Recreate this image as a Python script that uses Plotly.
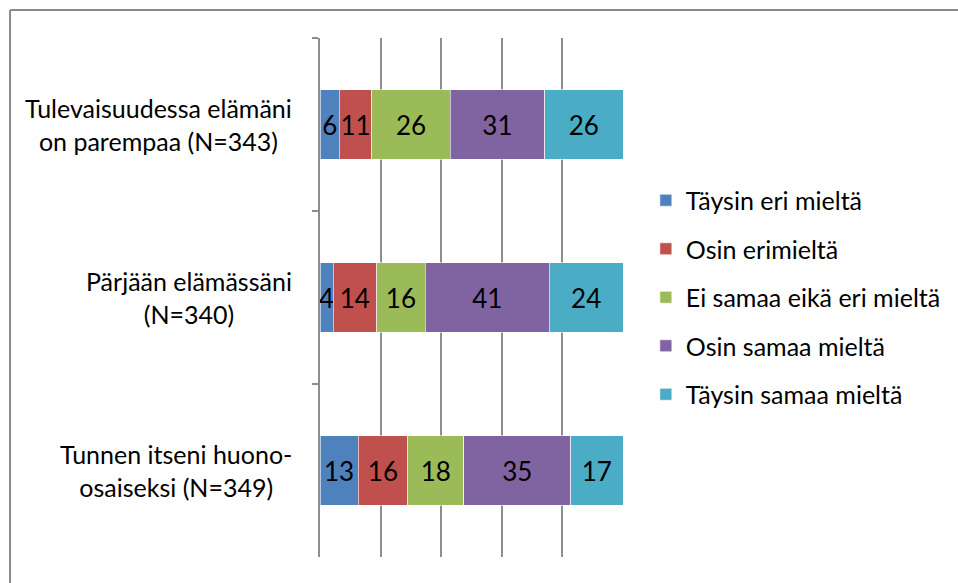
import plotly.graph_objects as go

categories = ["Tulevaisuudessa elämäni<br>on parempaa (N=343)",
              "Pärjään elämässäni<br>(N=340)",
              "Tunnen itseni huono-<br>osaiseksi (N=349)"]
series_names = ["Täysin eri mieltä", "Osin erimieltä", "Ei samaa eikä eri mieltä",
                "Osin samaa mieltä", "Täysin samaa mieltä"]
colors = ["#4F81BD", "#C0504D", "#9BBB59", "#8064A2", "#4BACC6"]

tays_eri = [6.4, 4.3, 12.6]
osin_eri = [10.7, 14.4, 16.3]
ei_samaa = [25.9, 16.0, 18.6]
osin_samaa = [31.1, 41.0, 35.2]
tays_samaa = [25.9, 24.3, 17.3]
labels = [[6, 4, 13], [11, 14, 16], [26, 16, 18], [31, 41, 35], [26, 24, 17]]

series = [tays_eri, osin_eri, ei_samaa, osin_samaa, tays_samaa]

W, H = 958, 583
ml, mr, mt, mb = 320, 333, 38, 26
pw, ph = W - ml - mr, H - mt - mb
FONT = "Lato"

fig = go.Figure()
for i, (name, vals) in enumerate(zip(series_names, series)):
    fig.add_trace(go.Bar(
        y=categories, x=vals, orientation="h", name=name,
        marker=dict(color=colors[i], line=dict(color="rgba(255,255,255,0.6)", width=1)),
        text=[str(v) for v in labels[i]], textposition="inside",
        insidetextanchor="middle", constraintext="none",
        textfont=dict(color="black", size=26, family=FONT),
        legendgroup=f"g{i}", hoverinfo="skip",
    ))

annotations = []
for c in categories:
    annotations.append(dict(
        xref="paper", yref="y", x=0, y=c, xshift=-26, xanchor="right",
        yanchor="middle", align="center", text=c, showarrow=False,
        font=dict(size=25, family=FONT, color="black"),
    ))

def px_x(p):
    return (p - ml) / pw

def px_y(p):
    return 1 - (p - mt) / ph

shapes = [
    dict(type="line", xref="paper", yref="paper", x0=px_x(8), x1=px_x(W + 5),
         y0=px_y(10), y1=px_y(10), line=dict(color="#8a8a8a", width=2)),
    dict(type="line", xref="paper", yref="paper", x0=px_x(8), x1=px_x(8),
         y0=px_y(10), y1=px_y(H + 5), line=dict(color="#8a8a8a", width=2)),
]

fig.update_layout(
    width=W, height=H, barmode="stack", bargap=0.6,
    margin=dict(l=ml, r=mr, t=mt, b=mb),
    paper_bgcolor="white", plot_bgcolor="white",
    font=dict(family=FONT, size=25, color="black"),
    xaxis=dict(range=[0, 100], dtick=20, showgrid=True, gridcolor="#8e8e8e",
               gridwidth=2, showticklabels=False, zeroline=False, showline=False,
               fixedrange=True),
    yaxis=dict(autorange="reversed", showticklabels=False, showline=True,
               linecolor="#8e8e8e", linewidth=2, ticks="outside",
               tickson="boundaries", ticklen=6, tickwidth=2, tickcolor="#8e8e8e",
               showgrid=False, fixedrange=True),
    legend=dict(x=px_x(648), y=0.5, xanchor="left", yanchor="middle",
                traceorder="grouped", tracegroupgap=13,
                font=dict(size=25, family=FONT), itemwidth=30),
    annotations=annotations, shapes=shapes, showlegend=True,
)

fig.write_html("out.html", config={"displayModeBar": False},
               post_script="document.body.style.margin='0';")
